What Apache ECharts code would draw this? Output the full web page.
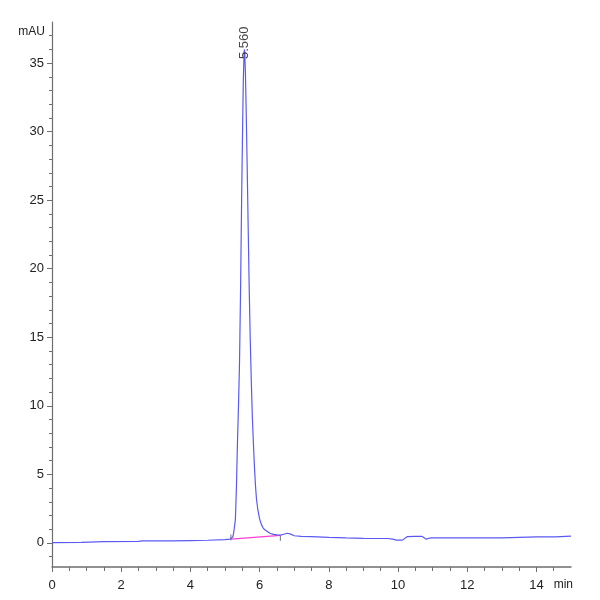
<!DOCTYPE html>
<html>
<head>
<meta charset="utf-8">
<script src="https://cdn.jsdelivr.net/npm/echarts@6/dist/echarts.min.js"></script>
<style>html,body{margin:0;padding:0;background:#fff}#c{width:600px;height:600px}</style>
</head>
<body>
<div id="c"></div>
<script>
// ---- data ----
const traceTime = [
  0.00, 0.85, 0.90, 1.50, 2.50, 2.60, 3.50, 4.00, 4.50, 5.00, 5.15, 5.20,
  5.23, 5.26, 5.28, 5.30, 5.33, 5.36, 5.39, 5.42, 5.45, 5.48, 5.51, 5.53,
  5.55, 5.56, 5.57, 5.59, 5.61, 5.64, 5.67, 5.70, 5.73, 5.76, 5.79, 5.82,
  5.85, 5.88, 5.91, 5.95, 6.00, 6.05, 6.10, 6.15, 6.20, 6.30, 6.40, 6.50,
  6.60, 6.70, 6.80, 6.90, 7.00, 7.20, 7.50, 8.00, 8.50, 9.00, 9.50, 9.70,
  9.85, 9.95, 10.13, 10.27, 10.50, 10.70, 10.82, 10.90, 11.00, 12.00, 13.00,
  13.05, 14.00, 14.55, 14.60, 15.00
];
const traceSignal = [
  0.02, 0.03, 0.08, 0.09, 0.11, 0.14, 0.15, 0.17, 0.19, 0.24, 0.28, 0.32,
  0.45, 0.90, 1.30, 1.70, 4.00, 7.30, 10.0, 13.2, 18.5, 25.0, 30.5, 33.8,
  35.6, 36.0, 35.8, 34.3, 31.8, 27.6, 23.0, 18.5, 14.8, 11.8, 9.2, 7.3,
  5.6, 4.2, 3.2, 2.4, 1.75, 1.35, 1.10, 0.95, 0.85, 0.70, 0.62, 0.58,
  0.56, 0.63, 0.70, 0.64, 0.52, 0.48, 0.45, 0.40, 0.36, 0.33, 0.32, 0.32,
  0.27, 0.20, 0.20, 0.46, 0.48, 0.47, 0.27, 0.34, 0.36, 0.36, 0.36,
  0.43, 0.44, 0.44, 0.49, 0.49
];
const peakBaselineTime = [5.17, 6.60];
const peakBaselineSignal = [0.27, 0.55];
const peakStartMark = [0.18, 0.62];
const peakEndMark = [0.15, 0.52];
const peakTime = 5.56;
const peakLabelAnchor = 35.3;
const peakLabel = '5.560';

const yLabelValues = [0, 5, 10, 15, 20, 25, 30, 35];
const yMinorValues = [-1, 1, 2, 3, 4, 6, 7, 8, 9, 11, 12, 13, 14, 16, 17, 18, 19,
  21, 22, 23, 24, 26, 27, 28, 29, 31, 32, 33, 34, 36, 37];
const xLabelValues = [0, 2, 4, 6, 8, 10, 12, 14];
const xMinorValues = [0.5, 1, 1.5, 2.5, 3, 3.5, 4.5, 5, 5.5, 6.5, 7, 7.5, 8.5, 9, 9.5,
  10.5, 11, 11.5, 12.5, 13, 13.5, 14.5];
const yUnit = 'mAU';
const xUnit = 'min';

// ---- chart ----
const axisColor = '#6e6e6e';
const labelFont = '"Liberation Sans", Arial, sans-serif';
const chart = echarts.init(document.getElementById('c'), null, {renderer: 'canvas'});

const pairs = (xs, ys) => xs.map((x, i) => [x, ys[i]]);

chart.setOption({
  animation: false,
  backgroundColor: '#ffffff',
  grid: {left: 52, right: 29, top: 22, bottom: 33, containLabel: false},
  xAxis: [
    {
      type: 'value', min: 0, max: 15, position: 'bottom',
      axisLine: {onZero: false, lineStyle: {color: axisColor, width: 1.5}},
      axisTick: {customValues: xLabelValues, length: 5, lineStyle: {color: axisColor, width: 1}},
      axisLabel: {customValues: xLabelValues, margin: 12, color: '#222', fontSize: 13, fontFamily: labelFont},
      splitLine: {show: false}
    },
    {
      type: 'value', min: 0, max: 15, position: 'bottom',
      axisLine: {show: false, onZero: false},
      axisTick: {customValues: xMinorValues, length: 4, lineStyle: {color: axisColor, width: 1}},
      axisLabel: {show: false},
      splitLine: {show: false}
    }
  ],
  yAxis: [
    {
      type: 'value', min: -1.76, max: 38, position: 'left',
      axisLine: {show: true, onZero: false, lineStyle: {color: axisColor, width: 1.2}},
      axisTick: {show: true, customValues: yLabelValues, length: 5, lineStyle: {color: axisColor, width: 1}},
      axisLabel: {customValues: yLabelValues, margin: 8, color: '#222', fontSize: 13, fontFamily: labelFont},
      splitLine: {show: false}
    },
    {
      type: 'value', min: -1.76, max: 38, position: 'left',
      axisLine: {show: false, onZero: false},
      axisTick: {show: true, customValues: yMinorValues, length: 3, lineStyle: {color: axisColor, width: 1}},
      axisLabel: {show: false},
      splitLine: {show: false}
    }
  ],
  graphic: [
    {type: 'text', x: 45, y: 32, style: {text: yUnit, fill: '#222', font: '12px ' + labelFont, align: 'right', verticalAlign: 'middle'}},
    {type: 'text', x: 573, y: 585, style: {text: xUnit, fill: '#222', font: '12px ' + labelFont, align: 'right', verticalAlign: 'middle'}}
  ],
  series: [
    {
      type: 'line', name: 'baseline', data: pairs(peakBaselineTime, peakBaselineSignal),
      showSymbol: false, symbol: 'none', z: 2,
      lineStyle: {color: '#ff3fd2', width: 1.3}
    },
    {
      type: 'line', name: 'start', data: pairs([peakBaselineTime[0], peakBaselineTime[0]], peakStartMark),
      showSymbol: false, symbol: 'none', z: 2,
      lineStyle: {color: '#777', width: 1}
    },
    {
      type: 'line', name: 'end', data: pairs([peakBaselineTime[1], peakBaselineTime[1]], peakEndMark),
      showSymbol: false, symbol: 'none', z: 2,
      lineStyle: {color: '#777', width: 1}
    },
    {
      type: 'line', name: 'signal', data: pairs(traceTime, traceSignal),
      showSymbol: false, symbol: 'none', z: 3,
      lineStyle: {color: '#5a5af2', width: 1.2}
    },
    {
      type: 'scatter', name: 'label', data: [[peakTime, peakLabelAnchor]],
      symbolSize: 0, z: 4, silent: true,
      label: {
        show: true, formatter: peakLabel, position: 'inside', rotate: 90,
        align: 'left', verticalAlign: 'middle',
        color: '#111', fontSize: 13, fontFamily: '"Liberation Sans", Arial, sans-serif'
      }
    }
  ]
});
</script>
</body>
</html>
